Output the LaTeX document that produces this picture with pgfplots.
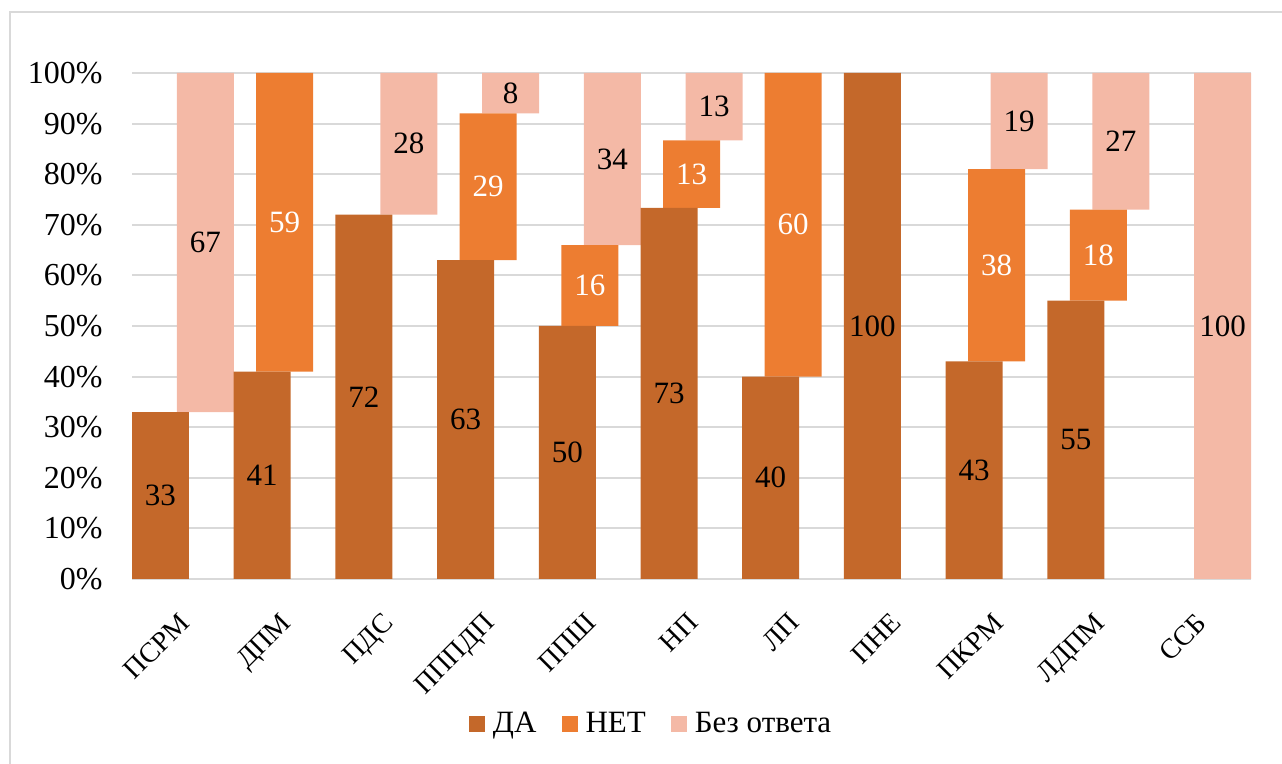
\documentclass[border=0pt]{standalone}
\usepackage{fontspec}
\setmainfont{Liberation Serif}
\usepackage{pgfplots}
\usepackage{pgfplotstable}
\pgfplotsset{compat=1.18}
\definecolor{cDa}{HTML}{C4682A}
\definecolor{cNet}{HTML}{ED7D31}
\definecolor{cBez}{HTML}{F4B9A6}
\definecolor{cGrid}{HTML}{D9D9D9}
\newcommand\fs[1]{\fontsize{#1}{#1}\selectfont}

% x  da  net  bez
\pgfplotstableread{
x  da     net    bez
0  33     0      67
1  41     59     0
2  72     0      28
3  63     29     8
4  50     16     34
5  73.33  13.33  13.34
6  40     60     0
7  100    0      0
8  43     38     19
9  55     18     27
10 0      0      100
}\answers

\pgfplotsset{
  sq legend/.style={legend image code/.code={\fill[##1,draw=none] (0pt,-4pt) rectangle (8pt,4pt);}},
}

\begin{document}
\begin{tikzpicture}
\path[use as bounding box] (0,0) rectangle (641pt,382pt);
\draw[cGrid, line width=1pt] (5pt,0) -- (5pt,376pt) -- (641pt,376pt);
\begin{axis}[
  at={(66pt,92.5pt)}, anchor=south west,
  scale only axis, width=559.5pt, height=253pt,
  ybar stacked, bar width=28.5pt,
  xmin=-0.5, xmax=10.5, ymin=0, ymax=100,
  xtick={0,...,10},
  xticklabels={ПСРМ,ДПМ,ПДС,ПППДП,ППШ,НП,ЛП,ПНЕ,ПКРМ,ЛДПМ,ССБ},
  xticklabel style={xshift=-2.5pt, yshift=-16pt, rotate=45, anchor=north east, inner sep=0pt, font=\fs{14}},
  ytick={0,10,...,100},
  yticklabel={\pgfmathprintnumber{\tick}\%},
  yticklabel style={anchor=east, inner sep=0pt, xshift=-14.5pt, font=\fs{16}},
  /pgf/number format/assume math mode=true,
  major tick length=0pt,
  axis line style={draw=none},
  ymajorgrids, grid style={cGrid, line width=1pt},
  nodes near coords={\pgfmathfloatifflags{\pgfplotspointmeta}{0}{}{\pgfmathprintnumber[fixed,precision=0]{\pgfplotspointmeta}}},
  every node near coord/.append style={font=\fs{15.5}, anchor=center},
  legend style={at={(0.4648,-0.2866)}, anchor=center, draw=none, fill=none, legend columns=3, font=\fs{15.5},
    /tikz/every odd column/.append style={column sep=2pt},
    /tikz/every even column/.append style={column sep=10.5pt}},
]
\addplot[fill=cDa, draw=none, bar shift=-11.25pt, sq legend] table[x=x, y=da] {\answers};
\addplot[fill=cNet, draw=none, bar shift=0pt, sq legend,
  every node near coord/.append style={text=white}] table[x=x, y=net] {\answers};
\addplot[fill=cBez, draw=none, bar shift=11.25pt, sq legend] table[x=x, y=bez] {\answers};
\legend{ДА,НЕТ,Без ответа}
\end{axis}
\end{tikzpicture}
\end{document}
